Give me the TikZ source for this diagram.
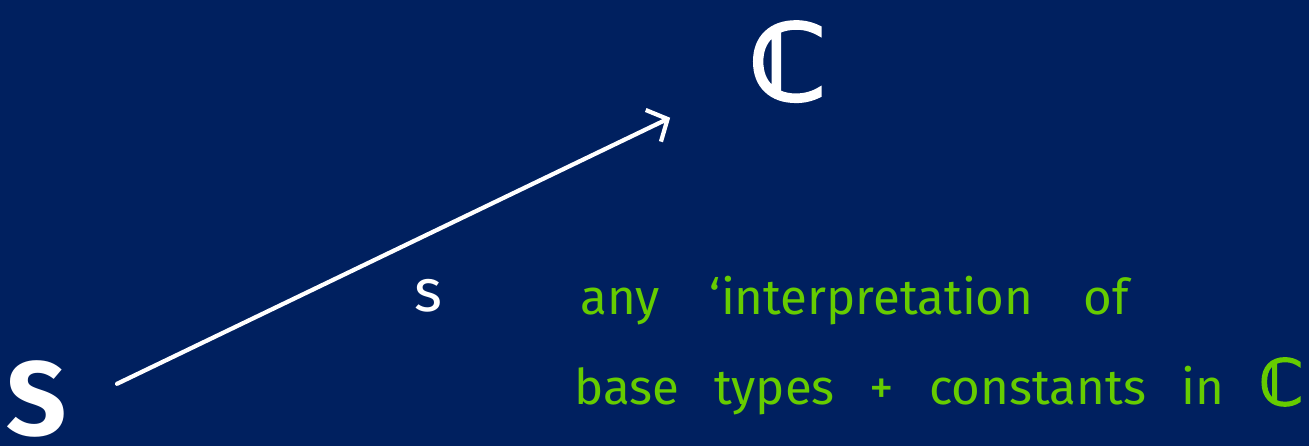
\documentclass[tikz,border=0pt]{standalone}
\usepackage{fontspec}
\setmainfont{Fira Sans}
\newfontfamily\dsfont[FakeBold=3]{DejaVu Sans}
\usetikzlibrary{arrows.meta}

\definecolor{slideblue}{HTML}{00205F}
\definecolor{chalkgreen}{HTML}{66CC00}

\begin{document}
\begin{tikzpicture}[
  x=0.02cm, y=0.02cm,
  category/.style={text=white, inner sep=0pt, font=\fontsize{60}{60}\selectfont\bfseries},
  functor/.style={draw=white, line width=2.4pt, line cap=round, -{Straight Barb[length=9pt, width=20pt, line width=2.4pt]}},
  functor label/.style={text=white, inner sep=0pt, font=\fontsize{34}{34}\selectfont},
  remark/.style={text=chalkgreen, inner sep=0pt, anchor=base west, font={\fontsize{28}{28}\selectfont\spaceskip #1\relax}},
  remark/.default=0.8cm
]

% Background
\fill[slideblue] (0,0) rectangle (1309,446);
\useasboundingbox (0,0) rectangle (1309,446);

%% OBJECTS
\node[category, anchor=base] (S) at (37,10) {S};
\node[category, anchor=base] (C) at (788,346) {\dsfont ℂ};

%% ARROW
\draw[functor, shorten <=1.1cm, shorten >=1.75cm] (S.-15) -- (C.205);
\node[functor label, anchor=base] (s) at (428,134) {s};

%% REMARK
\node[remark=1cm] (line1) at (580,131) {any `interpretation of};
\node[remark=0.7cm] (line2) at (574,41) {base types + constants in {\dsfont\fontsize{36}{36}\selectfont ℂ}};

\end{tikzpicture}
\end{document}
